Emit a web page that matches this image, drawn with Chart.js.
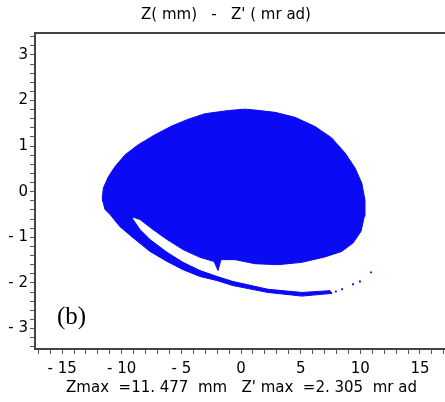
<!DOCTYPE html>
<html>
<head>
<meta charset="utf-8">
<script src="https://cdn.jsdelivr.net/npm/chart.js@4.4.1/dist/chart.umd.min.js"></script>
<style>
html, body { margin: 0; padding: 0; background: #fff; overflow: hidden; }
#wrap { width: 445px; height: 402px; overflow: hidden; }
</style>
</head>
<body>
<div id="wrap"><canvas id="myChart" width="452" height="402"></canvas></div>
<script>
// beam outline in phase space (Z in mm, Z' in mrad), traced from the left edge,
// down the outer arm, back along the gap, then round the main body
const blobZ = [-11.63, -11.57, -11.40, -10.98, -10.14, -9.05, -7.63, -6.20, -4.86, -3.44, -2.01, -0.67, 2.26, 5.11, 7.63,
  7.46, 5.11, 2.26, -0.67, -2.01, -3.44, -4.86, -6.20, -7.63, -8.47, -9.05, -9.14,
  -8.47, -7.38, -6.20, -4.86, -3.44, -2.26, -1.93, -1.68, -0.50, 1.17, 3.13, 5.09, 7.04, 8.44, 9.41, 10.06, 10.34,
  10.39, 10.12, 9.56, 8.72, 7.60, 6.20, 4.53, 2.85, 1.17, 0.34, -1.06, -3.02, -4.42, -5.81, -7.21, -8.61, -9.72,
  -10.56, -11.12, -11.54, -11.63];
const blobZp = [-0.14, -0.22, -0.39, -0.50, -0.77, -1.01, -1.31, -1.53, -1.71, -1.86, -1.95, -2.06, -2.21, -2.29, -2.23,
  -2.17, -2.21, -2.14, -1.97, -1.86, -1.73, -1.55, -1.33, -1.05, -0.83, -0.61, -0.55,
  -0.61, -0.83, -1.05, -1.27, -1.44, -1.53, -1.73, -1.49, -1.49, -1.58, -1.60, -1.55, -1.43, -1.31, -1.12, -0.87, -0.54,
  -0.18, 0.19, 0.52, 0.85, 1.18, 1.43, 1.63, 1.74, 1.79, 1.81, 1.78, 1.71, 1.59, 1.44, 1.25, 1.03, 0.81,
  0.55, 0.33, 0.08, -0.14];

// loose particles at the end of the arm
const tailZ = [7.95, 8.47, 9.39, 9.97, 10.90];
const tailZp = [-2.19, -2.14, -2.03, -1.97, -1.77];

const xTickLabels = [-15, -10, -5, 0, 5, 10, 15];
const yTickLabels = [-3, -2, -1, 0, 1, 2, 3];

// right end of the x range lies just past the page edge, as in the original
const X_MIN = -17.27, X_MAX = 17.35;
const Y_MIN = -3.45, Y_MAX = 3.48;
const BLUE = '#0a0af5';
const AXIS = '#444';
const FONT = 'DejaVu Sans';

function fmt(v) {
  return v < 0 ? '- ' + Math.abs(v) : String(v);
}

// "(b)" panel tag drawn in data coordinates
const panelTag = { text: '(b)', z: -14.2, zp: -2.76 };
const panelTagPlugin = {
  id: 'panelTag',
  afterDatasetsDraw(chart) {
    const ctx = chart.ctx;
    const x = chart.scales.x.getPixelForValue(panelTag.z);
    const y = chart.scales.y.getPixelForValue(panelTag.zp);
    ctx.save();
    ctx.font = '25px "Liberation Serif"';
    ctx.fillStyle = '#000';
    ctx.textAlign = 'center';
    ctx.textBaseline = 'middle';
    ctx.fillText(panelTag.text, x, y);
    ctx.restore();
  }
};

new Chart('myChart', {
  type: 'scatter',
  data: {
    datasets: [
      {
        data: blobZ.map((z, i) => ({ x: z, y: blobZp[i] })),
        showLine: true,
        fill: 'shape',
        tension: 0,
        backgroundColor: BLUE,
        borderColor: BLUE,
        borderWidth: 1,
        pointRadius: 0
      },
      {
        data: tailZ.map((z, i) => ({ x: z, y: tailZp[i] })),
        showLine: false,
        pointStyle: 'rect',
        pointRadius: 1.3,
        borderWidth: 0,
        backgroundColor: BLUE
      }
    ]
  },
  options: {
    responsive: false,
    animation: false,
    devicePixelRatio: 1,
    layout: { padding: 0 },
    plugins: {
      legend: { display: false },
      tooltip: { enabled: false },
      title: {
        display: true,
        text: "Z( mm)   -   Z' ( mr ad)",
        color: '#000',
        font: { family: FONT, size: 15, weight: 'normal' },
        padding: { top: 6, bottom: 9 }
      }
    },
    scales: {
      x: {
        type: 'linear',
        position: 'bottom',
        min: X_MIN,
        max: X_MAX,
        afterBuildTicks(scale) {
          const t = [];
          for (let v = -17; v <= 17; v++) t.push({ value: v });
          scale.ticks = t;
        },
        ticks: {
          autoSkip: false,
          maxRotation: 0,
          padding: 6,
          color: '#000',
          font: { family: FONT, size: 15 },
          callback: v => xTickLabels.includes(v) ? fmt(v) : ''
        },
        grid: { drawOnChartArea: false, tickLength: 5, color: '#555' },
        border: { display: true, color: AXIS, width: 2 },
        title: {
          display: true,
          text: "Zmax  =11. 477  mm   Z' max  =2. 305  mr ad",
          color: '#000',
          font: { family: FONT, size: 15 },
          padding: { top: 0, bottom: 5 }
        },
        afterFit(scale) { scale.height = 53; }
      },
      x2: {
        type: 'linear',
        position: 'top',
        min: X_MIN,
        max: X_MAX,
        ticks: { display: false },
        grid: { display: false, drawTicks: false },
        border: { display: true, color: AXIS, width: 2 },
        afterFit(scale) { scale.height = 0; }
      },
      y: {
        type: 'linear',
        min: Y_MIN,
        max: Y_MAX,
        afterBuildTicks(scale) {
          const t = [];
          for (let i = -17; i <= 17; i++) t.push({ value: i / 5 });
          scale.ticks = t;
        },
        ticks: {
          autoSkip: false,
          padding: 2,
          color: '#000',
          font: { family: FONT, size: 15 },
          callback: v => yTickLabels.includes(v) ? fmt(v) : ''
        },
        grid: { drawOnChartArea: false, tickLength: 5, color: '#555' },
        border: { display: true, color: AXIS, width: 2 },
        afterFit(scale) { scale.width = 35; }
      }
    }
  },
  plugins: [panelTagPlugin]
});
</script>
</body>
</html>
